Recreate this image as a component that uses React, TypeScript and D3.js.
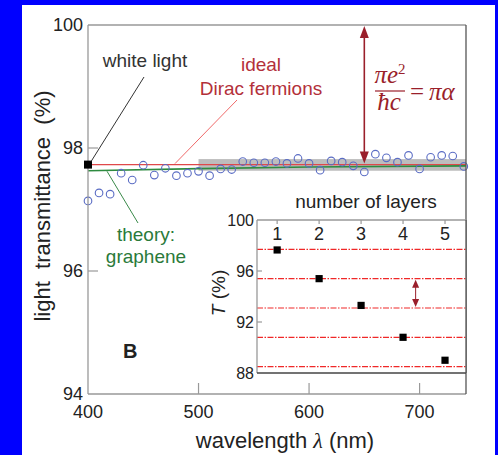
import React from "react";
import * as d3 from "d3";

// ---------- data ----------
const wavelengths = [400, 410, 420, 430, 440, 450, 460, 470, 480, 490, 500, 510, 520, 530, 540, 550, 560, 570, 580, 590, 600, 610, 620, 630, 640, 650, 660, 670, 680, 690, 700, 710, 720, 730, 740];
const transmittance = [97.14, 97.27, 97.25, 97.59, 97.48, 97.72, 97.56, 97.67, 97.55, 97.59, 97.62, 97.55, 97.66, 97.65, 97.78, 97.76, 97.76, 97.78, 97.75, 97.83, 97.75, 97.64, 97.79, 97.77, 97.71, 97.61, 97.9, 97.84, 97.77, 97.88, 97.66, 97.85, 97.88, 97.87, 97.7];
const theoryWl = [400, 500, 600, 742];
const theoryT = [97.63, 97.665, 97.69, 97.71];
const idealT = 97.73;
const bandWl = [500, 742];
const bandT = [97.63, 97.82];
const whiteLightWl = 400;
const whiteLightT = 97.73;
const xTicks = [400, 500, 600, 700];
const yTicks = [94, 96, 98, 100];

const layers = [1, 2, 3, 4, 5];
const layerT = [97.65, 95.4, 93.3, 90.8, 89.0];
const layerIdeal = [97.7, 95.4, 93.1, 90.8, 88.5];
const insetYTicks = [88, 92, 96, 100];
const insetArrowLayer = 4.3;
const mainArrowWl = 650;

// ---------- layout ----------
const W = 498, H = 455;
const M = { l: 88, r: 466, t: 25, b: 394 };
const I = { l: 257, r: 466, t: 220, b: 373 };

const x = d3.scaleLinear().domain([400, 742]).range([M.l, M.r]);
const y = d3.scaleLinear().domain([94, 100]).range([M.b, M.t]);
const xi = d3.scaleLinear().domain([0.52, 5.5]).range([I.l, I.r]);
const yi = d3.scaleLinear().domain([88, 100]).range([I.b, I.t]);

const sans = "'Liberation Sans', Arial, Helvetica, sans-serif";
const serif = "'Liberation Serif', 'Times New Roman', serif";
const darkRed = "#9a1f2b";

function arrowHead(xc: number, tip: number, dir: number, len: number, half: number) {
  // dir = -1 points up, +1 points down
  const base = tip - dir * len;
  return `M${xc},${tip} L${xc - half},${base} L${xc + half},${base} Z`;
}

export default function App() {
  const theoryLine = d3
    .line<number>()
    .x((_, i) => x(theoryWl[i]))
    .y((d) => y(d))(theoryT) as string;

  const ay1 = y(100) + 1;
  const ay2 = y(idealT) - 1;
  const ax = x(mainArrowWl);
  const iax = xi(insetArrowLayer);
  const iay1 = yi(layerIdeal[1]) + 1;
  const iay2 = yi(layerIdeal[2]) - 1;

  return (
    <svg width={W} height={H} style={{ position: "absolute", left: 0, top: 0 }} fontFamily={sans}>
      <rect x={0} y={0} width={W} height={H} fill="#0000ff" />
      <rect x={22} y={5} width={473} height={H - 5} fill="#ffffff" />

      {/* grey band */}
      <rect x={x(bandWl[0])} y={y(bandT[1])} width={x(bandWl[1]) - x(bandWl[0])} height={y(bandT[0]) - y(bandT[1])} fill="#bdbdbd" />

      {/* ideal red line */}
      <line x1={x(400)} x2={x(742)} y1={y(idealT)} y2={y(idealT)} stroke="#e0484a" strokeWidth={1.3} />
      {/* theory green line */}
      <path d={theoryLine} fill="none" stroke="#2e8b40" strokeWidth={1.6} />

      {/* data circles */}
      {wavelengths.map((w, i) => (
        <circle key={w} cx={x(w)} cy={y(transmittance[i])} r={3.8} fill="none" stroke="#5a6cc4" strokeWidth={1.1} />
      ))}

      {/* main frame */}
      <line x1={M.l} x2={M.l} y1={M.t} y2={M.b} stroke="#999" strokeWidth={1.3} />
      <line x1={M.l} x2={M.r} y1={M.b} y2={M.b} stroke="#999" strokeWidth={1.3} />
      <line x1={M.l} x2={M.r} y1={M.t} y2={M.t} stroke="#999" strokeWidth={1.3} />
      <line x1={M.r} x2={M.r} y1={M.t} y2={M.b} stroke="#555" strokeWidth={1.3} />

      {/* main ticks */}
      {yTicks.map((t) => (
        <g key={t}>
          {t !== 94 && t !== 100 && <line x1={M.l} x2={M.l + 10} y1={y(t)} y2={y(t)} stroke="#999" strokeWidth={1.2} />}
          <text x={M.l - 5} y={y(t)} dy="0.36em" textAnchor="end" fontSize={18} fill="#222">{t}</text>
        </g>
      ))}
      {xTicks.map((t) => (
        <g key={t}>
          {t !== 400 && <line x1={x(t)} x2={x(t)} y1={M.b} y2={M.b - 11} stroke="#999" strokeWidth={1.2} />}
          <text x={x(t)} y={M.b + 24} textAnchor="middle" fontSize={18} fill="#222">{t}</text>
        </g>
      ))}

      {/* white light square */}
      <rect x={x(whiteLightWl) - 4} y={y(whiteLightT) - 4} width={8} height={8} fill="#000" />

      {/* annotations */}
      <text x={145} y={67} textAnchor="middle" fontSize={19} fill="#333">white light</text>
      <line x1={144} y1={77} x2={x(whiteLightWl) + 3} y2={y(whiteLightT) - 3} stroke="#333" strokeWidth={1} />

      <text x={261} y={71} textAnchor="middle" fontSize={19} fill="#b3303a">ideal</text>
      <text x={261} y={95} textAnchor="middle" fontSize={19} fill="#b3303a">Dirac fermions</text>
      <line x1={237} y1={100} x2={175} y2={y(idealT) - 1} stroke="#f06a6a" strokeWidth={1} />

      <text x={146} y={241} textAnchor="middle" fontSize={19} fill="#2a7a3a">theory:</text>
      <text x={146} y={263} textAnchor="middle" fontSize={19} fill="#2a7a3a">graphene</text>
      <line x1={138} y1={223} x2={107} y2={y(theoryT[0]) + 0.5} stroke="#3a8a4a" strokeWidth={1} />

      {/* main double arrow */}
      <line x1={ax} x2={ax} y1={ay1 + 8} y2={ay2 - 8} stroke={darkRed} strokeWidth={1.6} />
      <path d={arrowHead(ax, ay1, -1, 12, 4.5)} fill={darkRed} />
      <path d={arrowHead(ax, ay2, 1, 12, 4.5)} fill={darkRed} />

      {/* formula */}
      <g fill={darkRed} fontFamily={serif} fontStyle="italic" fontSize={25}>
        <text x={390} y={83} textAnchor="middle">
          πe<tspan fontSize={15} dy={-9} fontStyle="normal">2</tspan>
        </text>
        <line x1={375} x2={405} y1={91} y2={91} stroke={darkRed} strokeWidth={1.2} />
        <text x={389} y={110} textAnchor="middle">ħc</text>
        <text x={410} y={100} fontStyle="normal">=</text>
        <text x={429} y={100}>πα</text>
      </g>

      <text x={123} y={358} fontSize={20} fontWeight="bold" fill="#222">B</text>

      {/* axis titles */}
      <text x={285} y={448} textAnchor="middle" fontSize={22} fill="#222">
        wavelength <tspan fontFamily={serif} fontStyle="italic">λ</tspan> (nm)
      </text>
      <text transform={`translate(50,206) rotate(-90)`} textAnchor="middle" fontSize={22} fill="#222" style={{ whiteSpace: "pre" }}>
        {"light  transmittance  (%)"}
      </text>

      {/* ---------- inset ---------- */}
      <rect x={I.l} y={I.t} width={I.r - I.l} height={I.b - I.t} fill="#fff" />
      {layerIdeal.map((v) => (
        <line key={v} x1={I.l} x2={I.r} y1={yi(v)} y2={yi(v)} stroke="#f02828" strokeWidth={1.2} strokeDasharray="6,1.5,1.5,1.5" />
      ))}
      {layers.map((n, i) => (
        <rect key={n} x={xi(n) - 3.6} y={yi(layerT[i]) - 3.6} width={7.2} height={7.2} fill="#000" />
      ))}
      <line x1={I.l} x2={I.l} y1={I.t} y2={I.b} stroke="#999" strokeWidth={1.3} />
      <line x1={I.l} x2={I.r} y1={I.t} y2={I.t} stroke="#999" strokeWidth={1.3} />
      <line x1={I.l} x2={I.r} y1={I.b} y2={I.b} stroke="#444" strokeWidth={1.3} />
      <line x1={I.r} x2={I.r} y1={I.t} y2={I.b} stroke="#555" strokeWidth={1.3} />
      {insetYTicks.map((t) => (
        <g key={t}>
          {t !== 88 && t !== 100 && <line x1={I.l} x2={I.l + 5} y1={yi(t)} y2={yi(t)} stroke="#999" strokeWidth={1.2} />}
          <text x={I.l - 3} y={yi(t)} dy="0.36em" textAnchor="end" fontSize={16} fill="#222">{t}</text>
        </g>
      ))}
      {layers.map((n) => (
        <g key={n}>
          <line x1={xi(n)} x2={xi(n)} y1={I.t} y2={I.t + 4} stroke="#999" strokeWidth={1.2} />
          <text x={xi(n)} y={I.t + 20} textAnchor="middle" fontSize={18} fill="#222">{n}</text>
        </g>
      ))}
      <text x={366} y={208} textAnchor="middle" fontSize={19} fill="#222">number of layers</text>
      <text transform={`translate(225,293) rotate(-90)`} textAnchor="middle" fontSize={19} fill="#222">
        <tspan fontStyle="italic">T</tspan> (%)
      </text>
      {/* inset double arrow */}
      <line x1={iax} x2={iax} y1={iay1 + 5} y2={iay2 - 5} stroke={darkRed} strokeWidth={1} />
      <path d={arrowHead(iax, iay1, -1, 8, 3.5)} fill={darkRed} />
      <path d={arrowHead(iax, iay2, 1, 8, 3.5)} fill={darkRed} />
    </svg>
  );
}
